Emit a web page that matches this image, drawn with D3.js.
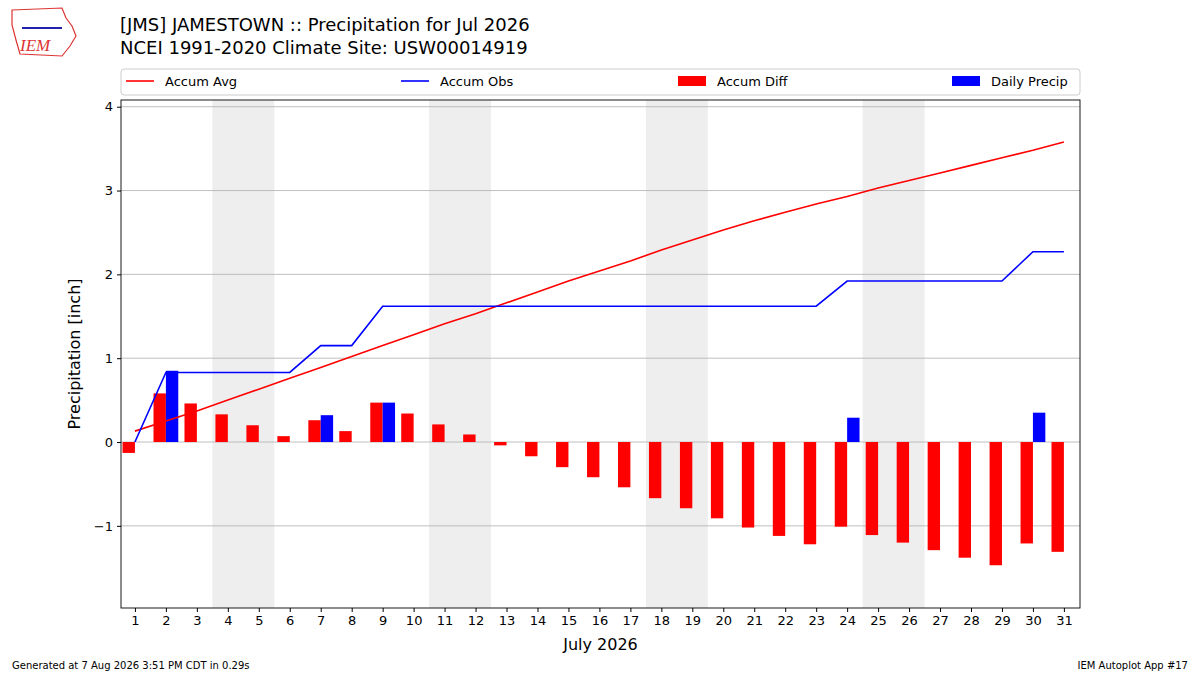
<!DOCTYPE html>
<html><head><meta charset="utf-8">
<script src="https://cdn.jsdelivr.net/npm/d3@7"></script>
<style>body{margin:0;background:#fff;font-family:"DejaVu Sans",sans-serif;}</style>
</head><body><div id="chart"></div>
<script>
'use strict';

var days = d3.range(1, 32);
var accumAvg = [0.13,0.25,0.37,0.50,0.63,0.76,0.89,1.02,1.15,1.28,1.41,1.53,1.66,1.79,1.92,2.04,2.16,2.29,2.41,2.53,2.64,2.74,2.84,2.93,3.03,3.12,3.21,3.30,3.39,3.48,3.58];
var accumObs = [0,0.83,0.83,0.83,0.83,0.83,1.15,1.15,1.62,1.62,1.62,1.62,1.62,1.62,1.62,1.62,1.62,1.62,1.62,1.62,1.62,1.62,1.62,1.92,1.92,1.92,1.92,1.92,1.92,2.27,2.27];
var accumDiff = [-0.13,0.58,0.46,0.33,0.20,0.07,0.26,0.13,0.47,0.34,0.21,0.09,-0.04,-0.17,-0.30,-0.42,-0.54,-0.67,-0.79,-0.91,-1.02,-1.12,-1.22,-1.01,-1.11,-1.20,-1.29,-1.38,-1.47,-1.21,-1.31];
var dailyPrecip = [0,0.85,0,0,0,0,0.32,0,0.47,0,0,0,0,0,0,0,0,0,0,0,0,0,0,0.29,0,0,0,0,0,0.35,0];
var weekends = [[3.5,5.5],[10.5,12.5],[17.5,19.5],[24.5,26.5]];
var yTicks = [-1,0,1,2,3,4];

var W = 1200, H = 675;
var m = {left:121, right:1080, top:100, bottom:608};
var svg = d3.select('#chart').append('svg').attr('width', W).attr('height', H);

var x = d3.scaleLinear().domain([0.55, 31.52]).range([m.left, m.right]);
var y = d3.scaleLinear().domain([-1.98, 4.08]).range([m.bottom, m.top]);

// titles
svg.append('text').attr('x', 120).attr('y', 31).attr('font-size', 18).text('[JMS] JAMESTOWN :: Precipitation for Jul 2026');
svg.append('text').attr('x', 120).attr('y', 54).attr('font-size', 18).text('NCEI 1991-2020 Climate Site: USW00014919');

// logo
var logo = svg.append('g');
logo.append('path').attr('d', 'M12,10 L62,8 L66,18 L72,26 L76,36 L70,46 L62,56 L20,54 L16,40 L12,25 Z')
    .attr('fill', 'none').attr('stroke', '#d33').attr('stroke-width', 1.2);
logo.append('text').attr('x', 20).attr('y', 51).attr('fill', '#d33').attr('font-size', 17)
    .attr('font-style', 'italic').attr('font-family', 'Liberation Serif').text('IEM');
logo.append('line').attr('x1', 22).attr('x2', 62).attr('y1', 28).attr('y2', 28).attr('stroke', '#22a').attr('stroke-width', 2);

// weekend shading
svg.selectAll('rect.wk').data(weekends).enter().append('rect')
    .attr('x', function(d){ return x(d[0]); }).attr('width', function(d){ return x(d[1]) - x(d[0]); })
    .attr('y', m.top).attr('height', m.bottom - m.top).attr('fill', '#eeeeee');

// grid
svg.selectAll('line.grid').data(yTicks).enter().append('line')
    .attr('x1', m.left).attr('x2', m.right)
    .attr('y1', function(d){ return y(d); }).attr('y2', function(d){ return y(d); })
    .attr('stroke', '#b0b0b0').attr('stroke-width', 0.8);

var bw = x(1.4) - x(1);
svg.selectAll('rect.diff').data(days).enter().append('rect')
    .attr('x', function(d){ return x(d - 0.4); }).attr('width', bw)
    .attr('y', function(d, i){ return y(Math.max(0, accumDiff[i])); })
    .attr('height', function(d, i){ return Math.abs(y(accumDiff[i]) - y(0)); })
    .attr('fill', 'red');
svg.selectAll('rect.daily').data(days).enter().append('rect')
    .attr('x', function(d){ return x(d); }).attr('width', bw)
    .attr('y', function(d, i){ return y(dailyPrecip[i]); })
    .attr('height', function(d, i){ return y(0) - y(dailyPrecip[i]); })
    .attr('fill', 'blue');

var line = function(vals){
    return d3.line().x(function(d){ return x(d); }).y(function(d, i){ return y(vals[i]); })(days);
};
svg.append('path').attr('d', line(accumAvg)).attr('fill', 'none').attr('stroke', 'red').attr('stroke-width', 1.6);
svg.append('path').attr('d', line(accumObs)).attr('fill', 'none').attr('stroke', 'blue').attr('stroke-width', 1.6);

// frame
svg.append('rect').attr('x', m.left).attr('y', m.top).attr('width', m.right - m.left).attr('height', m.bottom - m.top)
    .attr('fill', 'none').attr('stroke', '#000').attr('stroke-width', 0.9);

// axes
var xAxis = svg.append('g').attr('transform', 'translate(0,' + m.bottom + ')')
    .call(d3.axisBottom(x).tickValues(days).tickSize(4).tickPadding(4));
var yAxis = svg.append('g').attr('transform', 'translate(' + m.left + ',0)')
    .call(d3.axisLeft(y).tickValues(yTicks).tickSize(4).tickPadding(4)
    .tickFormat(function(d){ return d < 0 ? '\u2212' + Math.abs(d) : d; }));
[xAxis, yAxis].forEach(function(a){
    a.select('.domain').remove();
    a.selectAll('text').attr('font-size', 13).attr('fill', '#000').attr('font-family', '"DejaVu Sans"');
});
svg.append('text').attr('x', (m.left + m.right) / 2).attr('y', 650).attr('text-anchor', 'middle').attr('font-size', 16).text('July 2026');
svg.append('text').attr('transform', 'translate(80,' + ((m.top + m.bottom) / 2) + ') rotate(-90)')
    .attr('text-anchor', 'middle').attr('font-size', 16).text('Precipitation [inch]');

// legend
svg.append('rect').attr('x', 121).attr('y', 69).attr('width', 959).attr('height', 26).attr('rx', 3)
    .attr('fill', '#fff').attr('stroke', '#ccc');
var leg = [
    {t:'Accum Avg', c:'red', k:'line', x:126},
    {t:'Accum Obs', c:'blue', k:'line', x:401},
    {t:'Accum Diff', c:'red', k:'bar', x:678},
    {t:'Daily Precip', c:'blue', k:'bar', x:952}
];
leg.forEach(function(l){
    if (l.k === 'line') svg.append('line').attr('x1', l.x).attr('x2', l.x + 28).attr('y1', 81).attr('y2', 81).attr('stroke', l.c).attr('stroke-width', 1.6);
    else svg.append('rect').attr('x', l.x).attr('y', 76).attr('width', 28).attr('height', 10).attr('fill', l.c);
    svg.append('text').attr('x', l.x + 39).attr('y', 86).attr('font-size', 13).text(l.t);
});

svg.append('text').attr('x', 12).attr('y', 669).attr('font-size', 10).text('Generated at 7 Aug 2026 3:51 PM CDT in 0.29s');
svg.append('text').attr('x', 1188).attr('y', 669).attr('text-anchor', 'end').attr('font-size', 10).text('IEM Autoplot App #17');
</script></body></html>
